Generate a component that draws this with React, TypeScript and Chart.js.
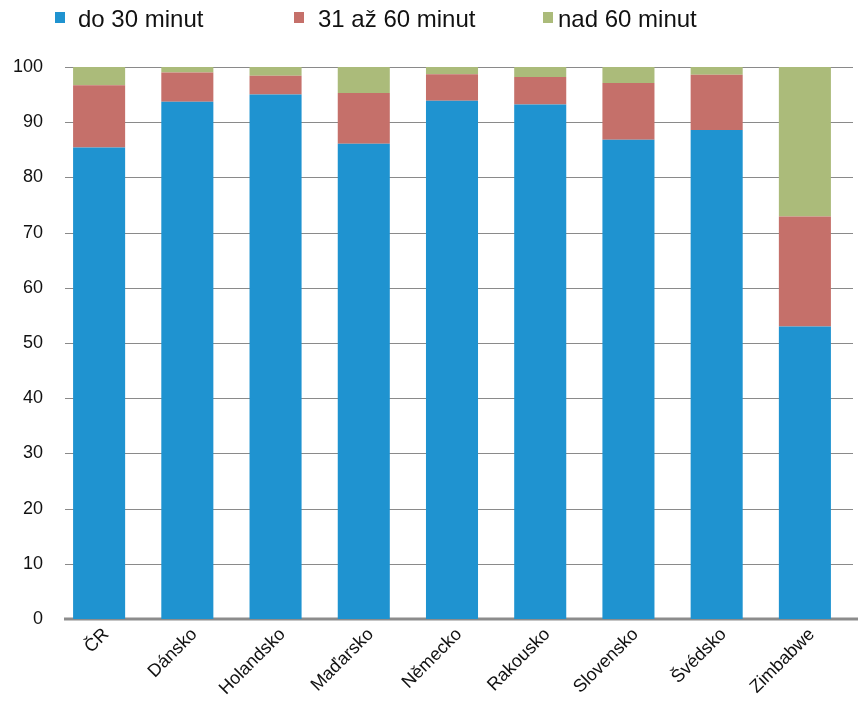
import React, { useEffect, useRef } from "react";
import { Chart, registerables } from "chart.js";

Chart.register(...registerables);

const categories = ["ČR", "Dánsko", "Holandsko", "Maďarsko", "Německo", "Rakousko", "Slovensko", "Švédsko", "Zimbabwe"];
const seriesNames = ["do 30 minut", "31 až 60 minut", "nad 60 minut"];
const under30 = [85.4, 93.7, 95.0, 86.1, 93.9, 93.2, 86.8, 88.6, 53.0];
const from31to60 = [11.3, 5.3, 3.4, 9.2, 4.8, 5.0, 10.3, 10.0, 19.9];
const over60 = [3.3, 1.0, 1.6, 4.7, 1.3, 1.8, 2.9, 1.4, 27.1];
const yTicks = [0, 10, 20, 30, 40, 50, 60, 70, 80, 90, 100];
const colors = ["#1f93d0", "#c5706a", "#abbb7a"];

const legendPlugin = {
  id: "customLegend",
  afterDraw(chart: any) {
    const ctx = chart.ctx;
    const boxX = [55, 294, 543];
    const textX = [78, 318, 558];
    ctx.save();
    ctx.font = '24px "Liberation Sans", Arial, sans-serif';
    ctx.textBaseline = "alphabetic";
    ctx.textAlign = "left";
    seriesNames.forEach((name, i) => {
      ctx.fillStyle = colors[i];
      ctx.fillRect(boxX[i], 12, 10, 11);
      ctx.fillStyle = "#111";
      ctx.fillText(name, textX[i], 27);
    });
    ctx.restore();
  },
};

const gridPlugin = {
  id: "customGrid",
  beforeDatasetsDraw(chart: any) {
    const ctx = chart.ctx;
    const y = chart.scales.y;
    const area = chart.chartArea;
    ctx.save();
    yTicks.forEach((v) => {
      const py = Math.round(y.getPixelForValue(v));
      ctx.beginPath();
      if (v === 0) {
        ctx.strokeStyle = "#8c8c8c";
        ctx.lineWidth = 3;
        ctx.moveTo(area.left + 9, py);
        ctx.lineTo(area.right + 9, py);
      } else {
        ctx.strokeStyle = "#8a8a8a";
        ctx.lineWidth = 1;
        ctx.moveTo(area.left + 10, py + 0.5);
        ctx.lineTo(area.right + 4, py + 0.5);
      }
      ctx.stroke();
    });
    ctx.restore();
  },
};

export default function App() {
  const ref = useRef<HTMLCanvasElement>(null);
  useEffect(() => {
    document.body.style.margin = "0";
    const data = [under30, from31to60, over60];
    const chart = new Chart(ref.current!, {
      type: "bar",
      data: {
        labels: categories,
        datasets: seriesNames.map((n, i) => ({
          label: n,
          data: data[i],
          backgroundColor: colors[i],
          borderWidth: 0,
          categoryPercentage: 1,
          barPercentage: 0.59,
        })),
      },
      options: {
        animation: false,
        responsive: false,
        maintainAspectRatio: false,
        layout: { padding: { top: 67, left: 13, right: 16, bottom: 0 } },
        plugins: { legend: { display: false }, tooltip: { enabled: false } },
        scales: {
          x: {
            stacked: true,
            grid: { display: false },
            border: { display: false },
            ticks: {
              minRotation: 45,
              maxRotation: 45,
              color: "#111",
              labelOffset: 7,
              font: { family: '"Liberation Sans", Arial, sans-serif', size: 18 },
              padding: -3,
            },
            afterFit(scale: any) {
              scale.height = 84;
            },
          },
          y: {
            stacked: true,
            min: 0,
            max: 100,
            afterBuildTicks(scale: any) {
              scale.ticks = yTicks.map((v) => ({ value: v }));
            },
            grid: { display: false, drawTicks: false },
            border: { display: false },
            ticks: {
              padding: 12,
              color: "#111",
              font: { family: '"Liberation Sans", Arial, sans-serif', size: 18 },
            },
            afterFit(scale: any) {
              scale.width = 42;
            },
          },
        },
      },
      plugins: [gridPlugin, legendPlugin],
    });
    return () => chart.destroy();
  }, []);
  return <canvas ref={ref} width={865} height={703} style={{ display: "block" }} />;
}
